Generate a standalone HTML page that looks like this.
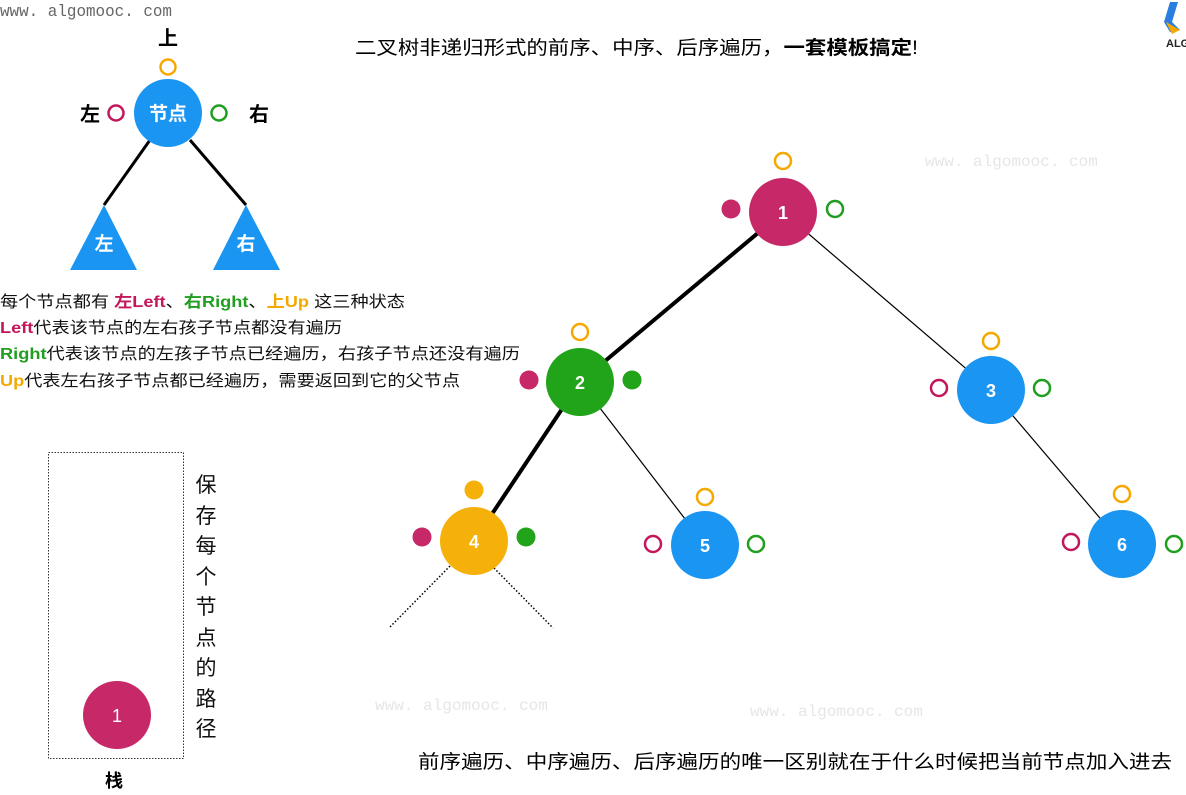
<!DOCTYPE html>
<html><head><meta charset="utf-8"><style>
html,body{margin:0;padding:0;background:#fff;width:1186px;height:795px;overflow:hidden}
svg{display:block}
text{font-family:"Liberation Sans","Noto Sans CJK SC",sans-serif}
</style></head><body>
<svg width="1186" height="795" viewBox="0 0 1186 795" xmlns="http://www.w3.org/2000/svg">
<g font-size="16" fill="#e6e6e6">
<text x="375" y="710" style="font-family:'Liberation Mono',monospace">www. algomooc. com</text>
<text x="750" y="716" style="font-family:'Liberation Mono',monospace">www. algomooc. com</text>
<text x="925" y="166" style="font-family:'Liberation Mono',monospace">www. algomooc. com</text>
</g>
<text x="0" y="16" font-size="17" fill="#666" textLength="172" lengthAdjust="spacingAndGlyphs" style="font-family:'Liberation Mono',monospace">www. algomooc. com</text>
<!-- logo -->
<path d="M1170 2 L1178 2 L1172 22 L1180 30 L1170 32 L1164 22 Z" fill="#2a7de1"/>
<path d="M1166 22 L1180 30 L1172 34 Z" fill="#f5a800"/>
<text x="1166" y="47" font-size="11" font-weight="bold" fill="#222">ALG</text>

<!-- top-left legend -->
<text x="168" y="45" font-size="20" font-weight="bold" text-anchor="middle">上</text>
<circle cx="168" cy="67" r="7.5" fill="none" stroke="#f5a800" stroke-width="2.5"/>
<text x="90" y="121" font-size="20" font-weight="bold" text-anchor="middle">左</text>
<circle cx="116" cy="113" r="7.5" fill="none" stroke="#c2185b" stroke-width="2.5"/>
<circle cx="219" cy="113" r="7.5" fill="none" stroke="#1f9e1f" stroke-width="2.5"/>
<text x="259" y="121" font-size="20" font-weight="bold" text-anchor="middle">右</text>
<line x1="150" y1="140" x2="104" y2="205" stroke="#000" stroke-width="3"/>
<line x1="190" y1="140" x2="246" y2="205" stroke="#000" stroke-width="3"/>
<circle cx="168" cy="113" r="34" fill="#1b95f2"/>
<text x="168" y="120" font-size="19" font-weight="bold" fill="#fff" text-anchor="middle">节点</text>
<polygon points="104,205 70,270 137,270" fill="#1b95f2"/>
<polygon points="246,205 213,270 280,270" fill="#1b95f2"/>
<text x="104" y="250" font-size="19" font-weight="bold" fill="#fff" text-anchor="middle">左</text>
<text x="246" y="250" font-size="19" font-weight="bold" fill="#fff" text-anchor="middle">右</text>

<g font-size="16" fill="#111" lengthAdjust="spacingAndGlyphs">
<text x="0" y="307" textLength="405" lengthAdjust="spacingAndGlyphs">每个节点都有 <tspan fill="#c2185b" font-weight="bold">左Left</tspan>、<tspan fill="#1f9e1f" font-weight="bold">右Right</tspan>、<tspan fill="#f5a800" font-weight="bold">上Up</tspan> 这三种状态</text>
<text x="0" y="333" textLength="342" lengthAdjust="spacingAndGlyphs"><tspan fill="#c2185b" font-weight="bold">Left</tspan>代表该节点的左右孩子节点都没有遍历</text>
<text x="0" y="359" textLength="520" lengthAdjust="spacingAndGlyphs"><tspan fill="#1f9e1f" font-weight="bold">Right</tspan>代表该节点的左孩子节点已经遍历，右孩子节点还没有遍历</text>
<text x="0" y="386" textLength="460" lengthAdjust="spacingAndGlyphs"><tspan fill="#f5a800" font-weight="bold">Up</tspan>代表左右孩子节点都已经遍历，需要返回到它的父节点</text>
</g>

<!-- stack -->
<rect x="48.5" y="452.5" width="135" height="306" fill="none" stroke="#333" stroke-width="1" stroke-dasharray="1.5,1.5"/>
<circle cx="117" cy="715" r="34" fill="#c72868"/>
<text x="117" y="722" font-size="18" fill="#fff" text-anchor="middle">1</text>
<g font-size="21" text-anchor="middle" fill="#111">
<text x="206" y="492">保</text><text x="206" y="523">存</text><text x="206" y="553">每</text><text x="206" y="584">个</text><text x="206" y="614">节</text><text x="206" y="645">点</text><text x="206" y="675">的</text><text x="206" y="706">路</text><text x="206" y="736">径</text>
</g>
<text x="114" y="787" font-size="18" font-weight="bold" text-anchor="middle">栈</text>

<!-- title -->
<text x="355" y="54" font-size="19" textLength="563" lengthAdjust="spacingAndGlyphs">二叉树非递归形式的前序、中序、后序遍历，<tspan font-weight="bold">一套模板搞定</tspan>!</text>
<text x="418" y="768" font-size="19" textLength="754" lengthAdjust="spacingAndGlyphs">前序遍历、中序遍历、后序遍历的唯一区别就在于什么时候把当前节点加入进去</text>

<!-- tree edges -->
<line x1="783" y1="212" x2="580" y2="382" stroke="#000" stroke-width="4"/>
<line x1="580" y1="382" x2="474" y2="541" stroke="#000" stroke-width="4"/>
<line x1="783" y1="212" x2="991" y2="390" stroke="#000" stroke-width="1.2"/>
<line x1="580" y1="382" x2="705" y2="545" stroke="#000" stroke-width="1.2"/>
<line x1="991" y1="390" x2="1122" y2="544" stroke="#000" stroke-width="1.2"/>
<line x1="450" y1="566" x2="389" y2="628" stroke="#000" stroke-width="1.5" stroke-dasharray="1.5,2"/>
<line x1="494" y1="568" x2="553" y2="628" stroke="#000" stroke-width="1.5" stroke-dasharray="1.5,2"/>

<g font-size="18" font-weight="bold" fill="#fff" text-anchor="middle">
<circle cx="783" cy="212" r="34" fill="#c72868"/><text x="783" y="219">1</text>
<circle cx="580" cy="382" r="34" fill="#21a31a"/><text x="580" y="389">2</text>
<circle cx="991" cy="390" r="34" fill="#1b95f2"/><text x="991" y="397">3</text>
<circle cx="474" cy="541" r="34" fill="#f5b00a"/><text x="474" y="548">4</text>
<circle cx="705" cy="545" r="34" fill="#1b95f2"/><text x="705" y="552">5</text>
<circle cx="1122" cy="544" r="34" fill="#1b95f2"/><text x="1122" y="551">6</text>
</g>

<g stroke-width="2.5" fill="none">
<circle cx="783" cy="161" r="8" stroke="#f5a800"/>
<circle cx="835" cy="209" r="8" stroke="#1f9e1f"/>
<circle cx="580" cy="332" r="8" stroke="#f5a800"/>
<circle cx="991" cy="341" r="8" stroke="#f5a800"/>
<circle cx="939" cy="388" r="8" stroke="#c2185b"/>
<circle cx="1042" cy="388" r="8" stroke="#1f9e1f"/>
<circle cx="705" cy="497" r="8" stroke="#f5a800"/>
<circle cx="653" cy="544" r="8" stroke="#c2185b"/>
<circle cx="756" cy="544" r="8" stroke="#1f9e1f"/>
<circle cx="1122" cy="494" r="8" stroke="#f5a800"/>
<circle cx="1071" cy="542" r="8" stroke="#c2185b"/>
<circle cx="1174" cy="544" r="8" stroke="#1f9e1f"/>
</g>
<circle cx="731" cy="209" r="9.5" fill="#c72868"/>
<circle cx="529" cy="380" r="9.5" fill="#c72868"/>
<circle cx="632" cy="380" r="9.5" fill="#21a31a"/>
<circle cx="474" cy="490" r="9.5" fill="#f5b00a"/>
<circle cx="422" cy="537" r="9.5" fill="#c72868"/>
<circle cx="526" cy="537" r="9.5" fill="#21a31a"/>
</svg>
</body></html>
